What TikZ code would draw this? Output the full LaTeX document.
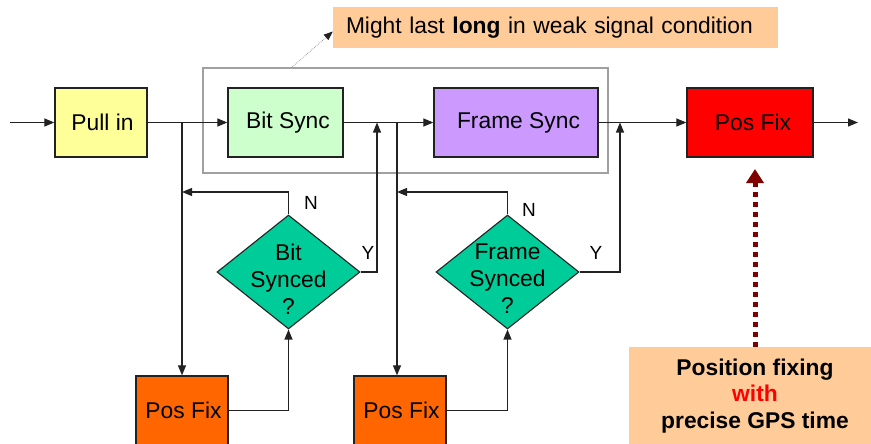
\documentclass[tikz,border=0pt]{standalone}
\usepackage{fontspec}
\setmainfont{Liberation Sans}
\usetikzlibrary{arrows.meta,shapes.geometric}

\definecolor{cYellow}{HTML}{FFFF99}
\definecolor{cMint}{HTML}{CCFFCC}
\definecolor{cLilac}{HTML}{CC99FF}
\definecolor{cRed}{HTML}{FF0000}
\definecolor{cOrange}{HTML}{FF6600}
\definecolor{cTeal}{HTML}{00CC99}
\definecolor{cPeach}{HTML}{FFCC99}
\definecolor{cMaroon}{HTML}{800000}
\definecolor{cFrame}{HTML}{A0A0A0}
\definecolor{cInk}{HTML}{222222}

\tikzset{
  blockbox/.style={draw=cInk, line width=1.3pt, rectangle, inner sep=0pt,
    minimum height=69pt, font=\fontsize{22.8}{27}\selectfont},
  decision/.style={draw=cInk, line width=1.1pt, diamond, inner sep=0pt,
    fill=cTeal, minimum width=143pt, minimum height=114pt},
  decisiontext/.style={align=center, inner sep=0pt,
    font=\fontsize{22.8}{27}\selectfont},
  flow/.style={draw=cInk, line width=1.2pt, -{Triangle[length=10pt,width=8pt]}},
  yn/.style={font=\fontsize{19}{22}\selectfont, inner sep=0pt},
  notebox/.style={fill=cPeach, inner sep=0pt, font=\fontsize{22.8}{27}\selectfont}
}

\begin{document}
\begin{tikzpicture}[x=1pt, y=-1pt]
\useasboundingbox (0,0) rectangle (871,444);
\clip (0,0) rectangle (871,444);

% group frame around the two sync stages
\node[draw=cFrame, line width=1.5pt, minimum width=405pt, minimum height=105pt,
      inner sep=0pt] (group) at (405.5,120.5) {};

% main chain
\node[blockbox, fill=cYellow, minimum width=92pt]  (pull)  at (101,122.5) {\hspace*{3pt}Pull in};
\node[blockbox, fill=cMint,   minimum width=115pt] (bit)   at (285.5,122.5) {\hspace*{5pt}Bit Sync};
\node[blockbox, fill=cLilac,  minimum width=164pt] (frame) at (516,122.5) {\hspace*{5pt}Frame Sync};
\node[blockbox, fill=cRed,    minimum width=126pt] (fix)   at (750,122.5) {\hspace*{6pt}Pos Fix};

% decisions
\node[decision] (bq) at (288.5,272) {};
\node[decisiontext] at ([yshift=-7pt]bq.center) {Bit\\Synced\\?};
\node[decision] (fq) at (507.5,272) {};
\node[decisiontext] at ([yshift=-7pt]fq.center) {Frame\\Synced\\?};

% fallback position fixes
\node[blockbox, fill=cOrange, minimum width=92pt] (pf1) at (182,410.5) {\hspace*{3pt}Pos Fix};
\node[blockbox, fill=cOrange, minimum width=92pt] (pf2) at (400,410.5) {\hspace*{3pt}Pos Fix};

% annotations
\node[notebox, minimum width=445pt, minimum height=41pt, inner xsep=13pt,
      text width=419pt, align=left] (note) at (555.5,27.5)
  {Might last \textbf{long} in weak signal condition};
\node[notebox, minimum width=252pt, minimum height=98pt, align=center,
      font=\bfseries\fontsize{22.8}{26.7}\selectfont] (gnote) at (755,396)
  {Position fixing\\\textcolor{red}{with}\\precise GPS time};

% junction points
\coordinate (src) at (10,122.5);
\coordinate (sink) at (858,122.5);
\coordinate (s1) at (182,122.5);
\coordinate (s2) at (397,122.5);
\coordinate (j1) at (377,122.5);
\coordinate (j2) at (620,122.5);
\coordinate (nb) at (288.5,192);
\coordinate (nf) at (507.5,192);
\coordinate (gtop) at (291,68);
\coordinate (fixtip) at (755,169);

% main flow
\draw[flow] (src) -- (pull);
\draw[flow] (pull) -- (bit);
\draw[flow] (bit) -- (frame);
\draw[flow] (frame) -- (fix);
\draw[flow] (fix) -- (sink);

% branches to fallback fixes
\draw[flow] (s1) -- (pf1.north -| s1);
\draw[flow] (s2) -- (pf2.north -| s2);

% fallback fixes feed the decisions
\draw[flow] (pf1.east) -| (bq.south);
\draw[flow] (pf2.east) -| (fq.south);

% N: retry
\draw[flow] (bq.north) -- (nb) -- (nb -| s1);
\draw[flow] (fq.north) -- (nf) -- (nf -| s2);
\node[yn] at (311,203) {N};
\node[yn] at (529,210) {N};

% Y: continue
\draw[flow] (bq.east) -| (j1);
\draw[flow] (fq.east) -| (j2);
\node[yn] at (368,253) {Y};
\node[yn] at (596,253) {Y};

% note pointer
\draw[cFrame, line width=0.8pt, densely dotted,
      -{Triangle[length=9pt,width=7pt,color=cInk]}] (gtop) -- ([yshift=-4pt]note.west);

% precise time feed
\draw[cMaroon, line width=5pt, dash pattern=on 5pt off 5pt,
      -{Triangle[length=14pt,width=17pt]}] (gnote.north) -- (fixtip);
\end{tikzpicture}
\end{document}
